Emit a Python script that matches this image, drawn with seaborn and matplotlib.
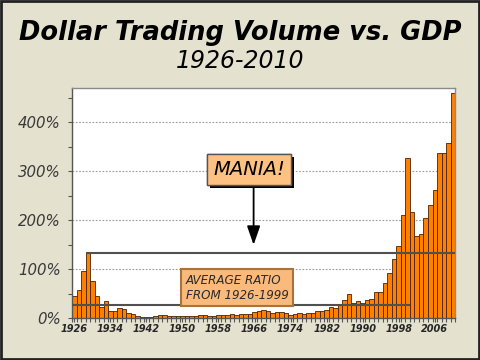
import matplotlib
matplotlib.use("Agg")
import matplotlib.pyplot as plt
import matplotlib.patheffects as pe
from matplotlib.patches import Rectangle
from matplotlib.ticker import MultipleLocator, FixedLocator, FuncFormatter
import seaborn as sns
import pandas as pd

# ---- data ----
years = list(range(1926, 2011))
ratio_pct = [
    46, 59, 97, 134, 77, 46, 23, 35, 15, 16, 22, 20, 12, 10,          # 1926-1939
    6, 4, 3, 4, 5, 7, 7, 5, 5, 5, 6, 6, 5, 5, 7, 7, 6, 6, 8, 8,       # 1940-1959
    8, 10, 8, 9, 9, 10, 13, 16, 18, 15, 12, 14, 14, 11, 8, 9, 11, 10, 11, 12,  # 1960-1979
    16, 15, 17, 24, 22, 27, 38, 49, 32, 35, 31, 37, 40, 53, 55, 73, 93, 121, 147, 212,  # 1980-1999
    327, 218, 169, 173, 204, 231, 261, 337, 338, 358, 460,            # 2000-2010
]
tick_years = [1926, 1934, 1942, 1950, 1958, 1966, 1974, 1982, 1990, 1998, 2006]
y_ticks = [0, 100, 200, 300, 400]
mania_level = 134
average_level = 27
title = "Dollar Trading Volume vs. GDP"
subtitle = "1926-2010"
mania_label = "MANIA!"
average_label = "AVERAGE RATIO\nFROM 1926-1999"

df = pd.DataFrame({"year": [str(y) for y in years], "ratio": ratio_pct})

sns.set_style("white")
plt.rcParams["font.family"] = ["DejaVu Sans"]

BG = "#E4E2CF"
fig = plt.figure(figsize=(4.8, 3.6), dpi=100, facecolor=BG)
ax = fig.add_axes([0.15, 0.1153, 0.798, 0.6403])
ax.set_facecolor("white")

sns.barplot(data=df, x="year", y="ratio", color="#FF8000", width=1.0,
            edgecolor="#4a2200", linewidth=0.6, saturation=1, ax=ax, zorder=2)

ax.set_xlim(-0.5, len(years) - 0.5)
ax.set_ylim(0, 470)

# grid
for v in y_ticks[1:]:
    ax.axhline(v, color="#9a9a9a", lw=0.8, ls=(0, (1.5, 1.5)), zorder=1)

# reference lines
i1929 = years.index(1929)
i2000 = years.index(2000)
ax.hlines(mania_level, i1929 - 0.5, len(years) - 0.5, color="#505050", lw=1.5, zorder=3)
ax.hlines(average_level, -0.5, i2000 + 0.5, color="#505050", lw=1.5, zorder=3)

# ticks
ax.yaxis.set_major_locator(FixedLocator(y_ticks))
ax.yaxis.set_minor_locator(MultipleLocator(50))
ax.yaxis.set_major_formatter(FuncFormatter(lambda v, p: f"{int(v)}%"))
ax.tick_params(axis="y", which="both", direction="out", length=3, width=0.8,
               color="#555555", labelsize=10.8, labelcolor="#3a3a3a", pad=5, left=True)
for t in ax.get_yticklabels():
    t.set_fontstyle("italic")

pos = [years.index(y) for y in tick_years]
ax.set_xticks(pos)
ax.set_xticklabels([str(y) for y in tick_years])
ax.xaxis.set_minor_locator(FixedLocator([i + 0.5 for i in range(-1, len(years))]))
ax.tick_params(axis="x", which="both", direction="out", length=3, width=0.8,
               color="#555555", labelsize=7, pad=1, bottom=True)
for t in ax.get_xticklabels():
    t.set_fontstyle("italic")
    t.set_fontweight("bold")
ax.set_xlabel("")
ax.set_ylabel("")

for s in ax.spines.values():
    s.set_color("#8a8a8a")
    s.set_linewidth(1.0)
ax.spines["left"].set_color("#555555")
ax.spines["bottom"].set_color("#555555")

# annotations
arrow_x = 39.8
ax.annotate("", xy=(arrow_x, 150), xytext=(arrow_x, 277),
            arrowprops=dict(arrowstyle="-|>,head_width=0.4,head_length=1.15",
                            color="black", lw=1.3, shrinkA=0, shrinkB=0), zorder=5)
tm = ax.text(38.8, 304, mania_label, ha="center", va="center", fontsize=14,
             fontstyle="italic", color="black", zorder=6,
             bbox=dict(boxstyle="square,pad=0.3", fc="#FDC182", ec="#555555", lw=1.0))
tm.get_bbox_patch().set_path_effects([pe.withSimplePatchShadow(offset=(2, -2), shadow_rgbFace="black", alpha=1.0), pe.Normal()])

ta = ax.text(24.7, 63, average_label, ha="left", va="center", fontsize=8.6,
             fontstyle="italic", color="#2a2a2a", linespacing=1.2, zorder=6,
             bbox=dict(boxstyle="square,pad=0.38", fc="#F9BA7C", ec="#A8743E", lw=1.5))

# titles
fig.text(0.5, 1 - 33 / 360, title, ha="center", va="center", fontsize=18.5,
         fontweight="bold", fontstyle="italic", color="black")
fig.text(0.5, 1 - 61 / 360, subtitle, ha="center", va="center", fontsize=17,
         fontstyle="italic", color="black")

fig.patches.append(Rectangle((0.002, 0.003), 0.996, 0.994, transform=fig.transFigure,
                             fill=False, ec="#222222", lw=2))

fig.savefig("out.png", dpi=100, facecolor=BG)
